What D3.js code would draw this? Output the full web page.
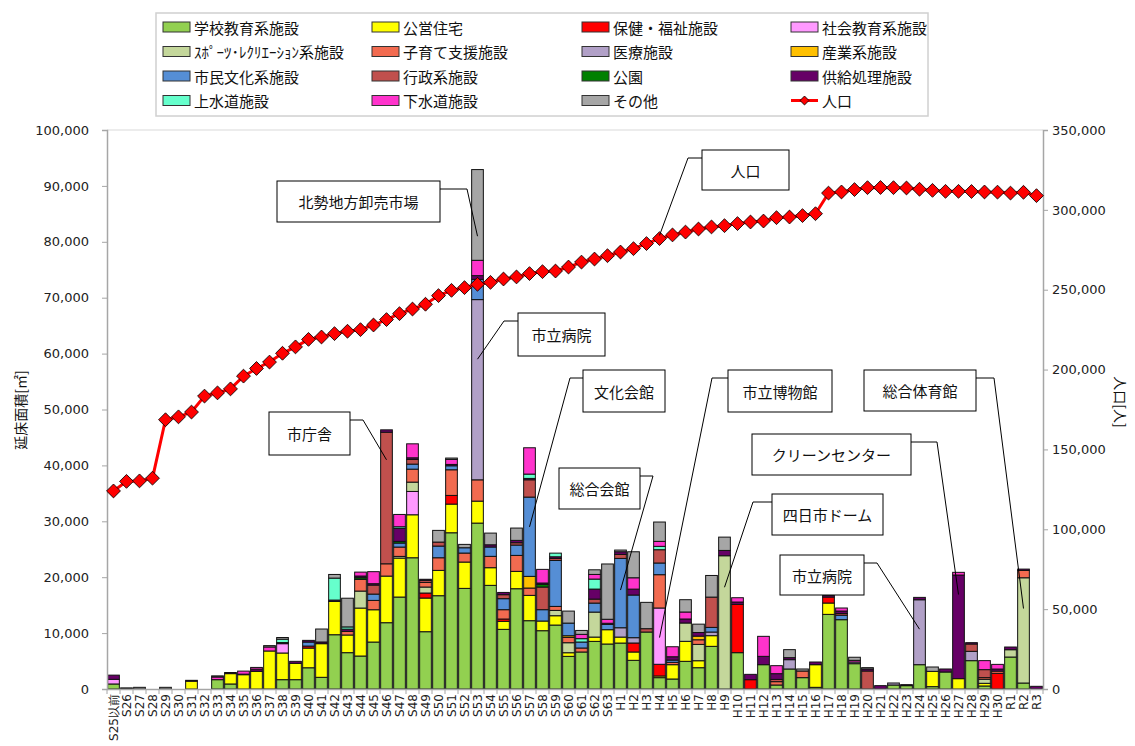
<!DOCTYPE html>
<html>
<head>
<meta charset="utf-8">
<script src="https://cdn.jsdelivr.net/npm/d3@7"></script>
<style>
  body { margin: 0; background: #fff; }
  svg text { font-family: "DejaVu Sans", sans-serif; fill: #222; }
  svg text.jp { font-family: "Noto Sans CJK JP", sans-serif; fill: #111; }
</style>
</head>
<body>
<div id="chart"></div>
<script>
// 年度
var years = [
  "S25以前","S26","S27","S28","S29","S30","S31","S32","S33","S34","S35","S36",
  "S37","S38","S39","S40","S41","S42","S43","S44","S45","S46","S47","S48",
  "S49","S50","S51","S52","S53","S54","S55","S56","S57","S58","S59","S60",
  "S61","S62","S63","H1","H2","H3","H4","H5","H6","H7","H8","H9",
  "H10","H11","H12","H13","H14","H15","H16","H17","H18","H19","H20","H21",
  "H22","H23","H24","H25","H26","H27","H28","H29","H30","R1","R2","R3"
];

// 延床面積 [m2] by category
var school = [
  900,0,0,0,0,0,0,0,1670,900,0,0,
  0,1670,1670,3800,2090,9710,6500,5900,8400,11860,16450,23480,
  10250,16690,27950,18000,29680,18540,10670,17940,12220,10430,11440,5840,
  6620,8520,8050,8220,5130,10190,2030,1790,4950,3810,7630,0,
  6500,0,4350,715,3580,2030,300,13350,12400,4530,0,0,
  715,600,4350,420,3040,0,5070,540,0,5720,1070,0
];
var housing = [
  0,0,0,0,0,0,1400,0,0,1850,2560,3160,
  6800,4770,2920,3520,6020,5960,3160,8580,5780,8340,6970,7690,
  6020,4530,5130,4710,3930,3160,1430,3100,4530,1730,1670,650,
  0,770,2560,1070,1490,0,300,2560,3580,1250,1910,0,
  0,0,0,0,0,0,4050,2030,0,0,0,0,
  0,0,0,2740,0,1850,0,480,0,0,0,0
];
var health = [
  0,0,0,0,0,0,0,0,0,0,0,0,
  0,0,0,360,0,0,0,0,0,0,0,0,
  900,0,1550,0,0,0,420,0,0,0,0,0,
  0,0,0,0,1610,0,2090,0,0,0,0,0,
  8640,1670,0,0,0,0,0,1070,0,0,0,0,
  0,0,0,0,0,0,0,0,2800,0,0,0
];
var socialEdu = [
  830,0,0,0,0,0,0,0,0,0,0,0,
  0,1670,0,0,0,0,0,0,0,0,0,4170,
  0,0,0,0,0,0,0,0,0,0,0,0,
  0,0,0,0,0,0,10070,0,0,0,0,0,
  0,0,0,0,0,0,0,0,0,0,0,0,
  0,0,0,0,0,0,0,0,0,0,0,0
];
var sports = [
  0,0,0,0,0,0,0,0,0,0,0,0,
  0,0,0,0,0,0,0,3040,0,0,300,1670,
  1070,0,0,0,0,0,0,0,0,0,950,1790,
  0,4470,0,0,0,0,0,0,3280,2920,0,23840,
  0,0,0,0,0,0,0,0,0,0,0,0,
  0,0,0,0,0,0,0,715,0,1310,18830,0
];
var childcare = [
  0,0,0,0,0,0,0,0,0,0,0,0,
  0,0,0,0,0,0,650,2090,1670,2200,1670,2320,
  830,2260,4590,1610,3810,2030,1670,2860,1310,0,715,950,
  715,0,0,0,0,0,5960,420,0,830,0,0,
  0,0,0,600,0,1190,0,0,0,0,0,0,
  0,0,0,0,0,0,0,300,400,0,1310,0
];
var medical = [
  0,0,0,0,0,0,0,0,0,0,0,0,
  0,0,0,0,0,0,0,0,0,0,0,0,
  0,0,0,0,32240,0,0,0,0,0,0,0,
  0,0,0,1670,950,0,0,0,0,0,650,0,
  0,0,0,0,1670,0,0,0,0,300,0,0,
  360,0,11620,0,0,0,1670,0,0,0,0,0
];
var industry = [
  0,0,0,0,0,0,0,0,0,0,0,0,
  0,0,0,0,0,0,0,0,0,0,0,0,
  0,0,0,0,0,0,0,0,2090,0,0,300,
  0,0,0,0,0,0,0,0,0,650,0,0,
  0,0,0,0,0,0,0,0,0,0,0,0,
  0,0,0,0,0,0,0,0,0,0,0,0
];
var culture = [
  0,0,0,0,0,0,0,0,0,0,0,0,
  0,0,0,720,0,0,0,0,1130,0,715,900,
  0,2090,715,950,3630,1670,1970,1850,14180,2030,8220,2260,
  1070,1610,950,12400,7630,0,2090,400,0,0,830,0,
  0,0,0,0,0,0,0,0,800,0,0,0,
  0,0,0,0,0,0,0,0,0,0,0,0
];
var admin = [
  0,0,0,0,0,0,0,0,0,0,0,0,
  0,0,0,0,0,0,0,0,1610,23540,0,830,
  360,715,0,0,0,0,715,420,3100,4050,360,0,
  0,715,0,715,0,600,2380,0,0,0,5420,0,
  0,0,0,400,0,0,0,0,300,0,3220,0,
  0,0,0,0,0,0,1310,1430,0,0,0,0
];
var park = [
  0,0,0,0,0,0,0,0,0,0,0,0,
  0,0,0,0,0,0,0,300,0,0,300,0,
  0,0,0,0,0,0,0,0,0,480,0,0,
  0,0,0,0,0,0,0,0,0,0,0,0,
  0,0,0,0,0,0,0,0,0,0,0,0,
  0,0,0,0,0,0,0,0,0,0,0,0
];
var supply = [
  750,0,0,0,0,0,150,0,0,200,100,400,
  0,200,360,300,300,240,400,300,250,420,2320,300,
  200,0,240,0,660,400,400,420,240,240,300,0,
  0,1790,200,480,1060,0,0,600,715,650,0,950,
  420,950,1490,1030,360,0,480,300,450,0,360,600,
  0,180,420,0,540,18540,240,0,375,480,240,480
];
var water = [
  0,0,0,0,0,0,0,0,0,0,0,0,
  0,600,0,0,0,3930,400,0,0,0,300,0,
  0,0,0,0,0,0,0,0,775,0,650,0,
  600,1790,0,0,0,0,600,0,0,0,0,0,
  0,0,0,0,0,0,0,0,0,0,0,0,
  0,0,0,0,0,0,0,0,0,0,0,0
];
var sewer = [
  0,0,0,0,0,0,0,0,480,0,540,300,
  720,0,0,0,0,0,0,700,2150,0,2200,2500,
  0,0,900,0,2740,0,0,0,4710,2440,0,0,
  770,830,715,0,2030,0,890,1790,1250,0,0,0,
  770,0,3580,1430,0,0,0,0,540,300,0,0,
  0,0,0,0,0,480,0,1610,830,0,0,0
];
var other = [
  0,200,300,0,300,0,0,0,200,0,0,0,
  240,300,0,0,2320,650,5130,0,0,0,0,0,
  0,2090,240,600,16230,2090,0,2200,0,0,0,2150,
  700,830,9890,300,4650,4710,3460,0,2200,1490,3870,2380,
  0,0,0,0,1430,360,0,0,0,550,240,0,
  0,0,0,775,0,0,0,0,0,0,0,0
];

// 人口 [人]
var population = [
  124000,130000,130300,132000,168600,170400,173400,183400,185400,187900,195900,200700,
  204700,210200,214200,218900,220400,222500,224000,225000,227900,231300,235000,237900,
  240900,246300,249600,251300,253400,254600,256700,258000,260100,261300,261700,264200,
  267300,269200,271300,273600,275700,278900,282000,284300,286100,288000,289300,290100,
  291400,292400,293000,295100,295500,296400,297600,310500,311200,312700,313900,314000,
  313900,313700,312900,312200,311600,311600,311500,311200,311100,310500,311000,308900
];

var seriesNames = ["学校教育系施設","公営住宅","保健・福祉施設","社会教育系施設",
  "ｽﾎﾟｰﾂ･ﾚｸﾘｴｰｼｮﾝ系施設","子育て支援施設","医療施設","産業系施設",
  "市民文化系施設","行政系施設","公園","供給処理施設",
  "上水道施設","下水道施設","その他"];
var seriesValues = [school, housing, health, socialEdu, sports, childcare, medical, industry,
  culture, admin, park, supply, water, sewer, other];
var seriesColors = ["#92D050","#FFFF00","#FF0000","#FF99FF","#C4D79B","#F26B50","#B1A0C7","#FFC000",
  "#558ED5","#C0504D","#008000","#660066","#66FFCC","#FF33CC","#A6A6A6"];

var leftTicks = [0,10000,20000,30000,40000,50000,60000,70000,80000,90000,100000];
var rightTicks = [0,50000,100000,150000,200000,250000,300000,350000];

// callout boxes (layout only); leader ends at a category / value
var callouts = [
  {text:"北勢地方卸売市場", cat:"S53", val:81000, axis:"L", x:277, y:181, w:163, h:41, side:"R", arm:27},
  {text:"市立病院", cat:"S53", val:59000, axis:"L", x:518, y:313, w:87, h:43, side:"L", arm:14},
  {text:"市庁舎", cat:"S46", val:41000, axis:"L", x:269, y:412, w:81, h:43, side:"R", arm:13},
  {text:"文化会館", cat:"S57", val:29000, axis:"L", x:583, y:370, w:82, h:42, side:"L", arm:13},
  {text:"総合会館", cat:"H1", val:17700, axis:"L", x:559, y:468, w:81, h:41, side:"R", arm:13},
  {text:"市立博物館", cat:"H4", val:9200, axis:"L", x:728, y:370, w:104, h:42, side:"L", arm:16},
  {text:"総合体育館", cat:"R2", val:14400, axis:"L", x:864, y:370, w:112, h:41, side:"R", arm:18},
  {text:"クリーンセンター", cat:"H27", val:16900, axis:"L", x:752, y:434, w:159, h:41, side:"R", arm:26},
  {text:"四日市ドーム", cat:"H9", val:18200, axis:"L", x:772, y:494, w:111, h:41, side:"L", arm:19},
  {text:"市立病院", cat:"H24", val:10700, axis:"L", x:780, y:555, w:84, h:40, side:"R", arm:13},
  {text:"人口", cat:"H4", val:284000, axis:"R", x:702, y:150, w:87, h:40, side:"L", arm:14}
];

var width = 1135, height = 746;
var plot = {left:107, right:1043, top:130, bottom:689};

var svg = d3.select("#chart").append("svg")
  .attr("width", width).attr("height", height);

var x = d3.scaleBand().domain(years).range([plot.left, plot.right]).paddingInner(0.1).paddingOuter(0.05);
var yL = d3.scaleLinear().domain([0, 100000]).range([plot.bottom, plot.top]);
var yR = d3.scaleLinear().domain([0, 350000]).range([plot.bottom, plot.top]);

// table for the stack
var rows = years.map(function(y, i) {
  var o = {year: y};
  seriesNames.forEach(function(n, k) { o[n] = seriesValues[k][i]; });
  return o;
});
var stacked = d3.stack().keys(seriesNames)(rows);

// top border of plot area
svg.append("line")
  .attr("x1", plot.left).attr("x2", plot.right)
  .attr("y1", plot.top).attr("y2", plot.top)
  .attr("stroke", "#d9d9d9");

// bars
var layers = svg.append("g").selectAll("g").data(stacked).enter().append("g")
  .attr("fill", function(d, i) { return seriesColors[i]; });
layers.selectAll("rect")
  .data(function(d) { return d.filter(function(s) { return s[1] - s[0] > 0; }); })
  .enter().append("rect")
  .attr("x", function(d) { return x(d.data.year); })
  .attr("width", x.bandwidth())
  .attr("y", function(d) { return yL(d[1]); })
  .attr("height", function(d) { return yL(d[0]) - yL(d[1]); })
  .attr("stroke", "#111")
  .attr("stroke-width", 1);

// axes
var axL = svg.append("g").attr("transform", "translate(" + plot.left + ",0)")
  .call(d3.axisLeft(yL).tickValues(leftTicks).tickFormat(d3.format(",")).tickSize(5).tickPadding(13));
var axR = svg.append("g").attr("transform", "translate(" + plot.right + ",0)")
  .call(d3.axisRight(yR).tickValues(rightTicks).tickFormat(d3.format(",")).tickSize(5).tickPadding(4));
[axL, axR].forEach(function(a) {
  a.select(".domain").attr("stroke", "#a6a6a6").attr("stroke-width", 1.5);
  a.selectAll(".tick line").attr("stroke", "#a6a6a6");
  a.selectAll("text").attr("font-size", 13).attr("fill", "#222")
    .attr("font-family", "DejaVu Sans, sans-serif");
});

var axB = svg.append("g").attr("transform", "translate(0," + plot.bottom + ")")
  .call(d3.axisBottom(x).tickSize(0).tickPadding(0));
axB.select(".domain").attr("stroke", "#a6a6a6").attr("stroke-width", 1.5);
axB.selectAll("text")
  .attr("font-size", 12).attr("fill", "#222")
  .attr("font-family", "DejaVu Sans, Noto Sans CJK JP, sans-serif")
  .attr("text-anchor", "end")
  .attr("dy", null)
  .attr("dominant-baseline", "central")
  .attr("transform", "translate(0,5) rotate(-90)");
// category separators
var step = x.step();
var edges = years.map(function(y) { return x(y) - step * x.paddingInner() / 2; });
edges.push(plot.right);
svg.append("g").selectAll("line").data(edges).enter().append("line")
  .attr("x1", function(d) { return d; }).attr("x2", function(d) { return d; })
  .attr("y1", plot.bottom).attr("y2", plot.bottom + 5)
  .attr("stroke", "#a6a6a6");

// axis titles
svg.append("text").attr("class", "jp")
  .attr("transform", "translate(20,410) rotate(-90)")
  .attr("text-anchor", "middle").attr("dominant-baseline", "central")
  .attr("font-size", 14).text("延床面積[㎡]");
svg.append("text").attr("class", "jp")
  .attr("transform", "translate(1121,402) rotate(90)")
  .attr("text-anchor", "middle").attr("dominant-baseline", "central")
  .attr("font-size", 14).text("人口[人]");

// population line
var cx = function(i) { return x(years[i]) + x.bandwidth() / 2; };
var line = d3.line().x(function(d, i) { return cx(i); }).y(function(d) { return yR(d); });
svg.append("path").datum(population)
  .attr("d", line).attr("fill", "none")
  .attr("stroke", "#FF0000").attr("stroke-width", 3);
var diamond = d3.symbol().type(d3.symbolSquare).size(96);
svg.append("g").selectAll("path").data(population).enter().append("path")
  .attr("d", diamond)
  .attr("transform", function(d, i) { return "translate(" + cx(i) + "," + yR(d) + ") rotate(45)"; })
  .attr("fill", "#FF0000").attr("stroke", "#000").attr("stroke-width", 0.8);

// callouts
var cg = svg.append("g");
callouts.forEach(function(c) {
  var ex = x(c.cat) + x.bandwidth() / 2;
  var ey = c.axis === "R" ? yR(c.val) : yL(c.val);
  var sx = c.side === "R" ? c.x + c.w : c.x;
  var sy = c.y + 8;
  var mx = c.side === "R" ? sx + c.arm : sx - c.arm;
  cg.append("polyline")
    .attr("points", [[sx, sy], [mx, sy], [ex, ey]].map(function(p) { return p.join(","); }).join(" "))
    .attr("fill", "none").attr("stroke", "#000").attr("stroke-width", 1);
  cg.append("rect")
    .attr("x", c.x).attr("y", c.y).attr("width", c.w).attr("height", c.h)
    .attr("fill", "#fff").attr("stroke", "#000").attr("stroke-width", 1);
  cg.append("text").attr("class", "jp")
    .attr("x", c.x + c.w / 2).attr("y", c.y + c.h / 2)
    .attr("text-anchor", "middle").attr("dominant-baseline", "central")
    .attr("font-size", 15).text(c.text);
});

// legend
var lg = svg.append("g");
lg.append("rect").attr("x", 156).attr("y", 13).attr("width", 772).attr("height", 103)
  .attr("fill", "#fff").attr("stroke", "#d0d0d0").attr("stroke-width", 1.5);
var colX = [163, 372, 582, 791];
var rowY = [27, 51.5, 76, 100.5];
var legendItems = seriesNames.concat(["人口"]);
legendItems.forEach(function(name, i) {
  var lx = colX[i % 4], ly = rowY[Math.floor(i / 4)];
  if (i < seriesNames.length) {
    lg.append("rect").attr("x", lx).attr("y", ly - 5).attr("width", 27).attr("height", 10)
      .attr("fill", seriesColors[i]).attr("stroke", "#333").attr("stroke-width", 1);
  } else {
    lg.append("line").attr("x1", lx).attr("x2", lx + 27).attr("y1", ly).attr("y2", ly)
      .attr("stroke", "#FF0000").attr("stroke-width", 3);
    lg.append("path").attr("d", d3.symbol().type(d3.symbolSquare).size(40))
      .attr("transform", "translate(" + (lx + 13.5) + "," + ly + ") rotate(45)")
      .attr("fill", "#FF0000").attr("stroke", "#000").attr("stroke-width", 0.8);
  }
  lg.append("text").attr("class", "jp")
    .attr("x", lx + 31).attr("y", ly)
    .attr("dominant-baseline", "central")
    .attr("font-size", 15).text(name);
});
</script>
</body>
</html>
